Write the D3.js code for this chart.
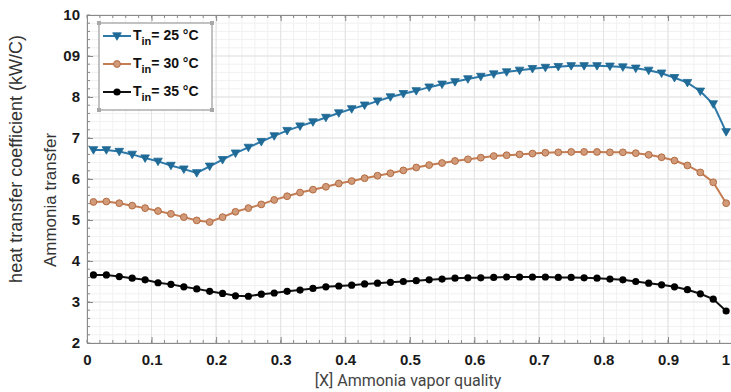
<!DOCTYPE html>
<html>
<head>
<meta charset="utf-8">
<script src="https://cdn.jsdelivr.net/npm/d3@7"></script>
<style>
  body { margin: 0; background: #fff; }
  svg { display: block; font-family: "Liberation Sans", Arial, sans-serif; }
</style>
</head>
<body>
<div id="chart"></div>
<script>
// vapor quality samples
const quality = [0.01, 0.03, 0.05, 0.07, 0.09, 0.11, 0.13, 0.15, 0.17, 0.19,
  0.21, 0.23, 0.25, 0.27, 0.29, 0.31, 0.33, 0.35, 0.37, 0.39,
  0.41, 0.43, 0.45, 0.47, 0.49, 0.51, 0.53, 0.55, 0.57, 0.59,
  0.61, 0.63, 0.65, 0.67, 0.69, 0.71, 0.73, 0.75, 0.77, 0.79,
  0.81, 0.83, 0.85, 0.87, 0.89, 0.91, 0.93, 0.95, 0.97, 0.99];

const tin25 = [6.71, 6.71, 6.67, 6.60, 6.51, 6.43, 6.33, 6.24, 6.15, 6.31,
  6.47, 6.63, 6.77, 6.91, 7.05, 7.18, 7.29, 7.39, 7.50, 7.61,
  7.71, 7.80, 7.90, 8.00, 8.08, 8.15, 8.24, 8.31, 8.37, 8.44,
  8.50, 8.56, 8.61, 8.65, 8.69, 8.72, 8.74, 8.76, 8.76, 8.76,
  8.75, 8.73, 8.70, 8.65, 8.58, 8.47, 8.35, 8.14, 7.83, 7.15];

const tin30 = [5.44, 5.45, 5.41, 5.35, 5.29, 5.22, 5.15, 5.07, 4.99, 4.95,
  5.07, 5.20, 5.29, 5.38, 5.49, 5.58, 5.67, 5.74, 5.81, 5.89,
  5.95, 6.02, 6.08, 6.14, 6.21, 6.28, 6.34, 6.39, 6.44, 6.48,
  6.52, 6.56, 6.58, 6.60, 6.62, 6.64, 6.65, 6.66, 6.66, 6.66,
  6.65, 6.65, 6.63, 6.59, 6.53, 6.45, 6.33, 6.16, 5.92, 5.41];

const tin35 = [3.66, 3.66, 3.62, 3.58, 3.54, 3.47, 3.43, 3.37, 3.32, 3.26,
  3.21, 3.15, 3.14, 3.19, 3.22, 3.26, 3.29, 3.33, 3.37, 3.39,
  3.41, 3.44, 3.46, 3.48, 3.50, 3.52, 3.54, 3.56, 3.58, 3.59,
  3.59, 3.60, 3.61, 3.61, 3.61, 3.61, 3.60, 3.60, 3.59, 3.58,
  3.56, 3.54, 3.50, 3.46, 3.42, 3.37, 3.30, 3.20, 3.07, 2.78];

const seriesTemps = ['25', '30', '35'];
const xTicks = [0, 0.1, 0.2, 0.3, 0.4, 0.5, 0.6, 0.7, 0.8, 0.9, 1];
const xTickLabels = ['0', '0.1', '0.2', '0.3', '0.4', '0.5', '0.6', '0.7', '0.8', '0.9', '1'];
const yTicks = [2, 3, 4, 5, 6, 7, 8, 9, 10];
const yTickLabels = ['2', '3', '4', '5', '6', '7', '8', '09', '10'];

const width = 731, height = 392;

const svg = d3.select('#chart').append('svg')
  .attr('width', width)
  .attr('height', height);

const x = d3.scaleLinear().domain([0, 1]).range([87, 732.6]);
const y = d3.scaleLinear().domain([2, 10]).range([343, 15]);

// grid (minor then major)
const grid = svg.append('g');
grid.selectAll('line.vx').data(d3.range(0, 1.001, 0.02)).join('line')
  .attr('x1', d => x(d)).attr('x2', d => x(d))
  .attr('y1', y(2)).attr('y2', y(10))
  .attr('stroke', '#f1f1f1').attr('stroke-width', 1);
grid.selectAll('line.hy').data(d3.range(2, 10.001, 0.2)).join('line')
  .attr('x1', x(0)).attr('x2', x(1))
  .attr('y1', d => y(d)).attr('y2', d => y(d))
  .attr('stroke', '#f1f1f1').attr('stroke-width', 1);
grid.selectAll('line.mx').data(xTicks).join('line')
  .attr('x1', d => x(d)).attr('x2', d => x(d))
  .attr('y1', y(2)).attr('y2', y(10))
  .attr('stroke', '#e2e2e2').attr('stroke-width', 1);
grid.selectAll('line.my').data(yTicks).join('line')
  .attr('x1', x(0)).attr('x2', x(1))
  .attr('y1', d => y(d)).attr('y2', d => y(d))
  .attr('stroke', '#e2e2e2').attr('stroke-width', 1);

// minor ticks, inward
const minor = svg.append('g').attr('stroke', '#888').attr('stroke-width', 1);
d3.range(0, 1.001, 0.02).forEach(v => {
  minor.append('line').attr('x1', x(v)).attr('x2', x(v)).attr('y1', y(2)).attr('y2', y(2) - 3);
  minor.append('line').attr('x1', x(v)).attr('x2', x(v)).attr('y1', y(10)).attr('y2', y(10) + 3);
});
d3.range(2, 10.001, 0.2).forEach(v => {
  minor.append('line').attr('x1', x(0)).attr('x2', x(0) + 3).attr('y1', y(v)).attr('y2', y(v));
});

// axes
svg.append('g')
  .attr('transform', 'translate(0,' + y(2) + ')')
  .call(d3.axisBottom(x).tickValues(xTicks)
    .tickFormat((d, i) => xTickLabels[i])
    .tickSizeInner(-6).tickSizeOuter(0).tickPadding(11));
svg.append('g')
  .attr('transform', 'translate(0,' + y(10) + ')')
  .call(d3.axisTop(x).tickValues(xTicks).tickFormat('')
    .tickSizeInner(-6).tickSizeOuter(0));
svg.append('g')
  .attr('transform', 'translate(' + x(0) + ',0)')
  .call(d3.axisLeft(y).tickValues(yTicks)
    .tickFormat((d, i) => yTickLabels[i])
    .tickSizeInner(-6).tickSizeOuter(0).tickPadding(7));

svg.selectAll('.domain').attr('stroke', '#8a8a8a');
svg.selectAll('.tick line').attr('stroke', '#888');
svg.selectAll('.tick text')
  .attr('fill', '#1a1a1a')
  .style('font-size', '15px')
  .style('font-weight', 'bold');
// last x label sits at the window edge; keep it inside
svg.selectAll('.tick text').filter(d => d === 1)
  .attr('text-anchor', 'end').attr('x', -3);

// series
const series = [
  { temp: seriesTemps[0], values: tin25, color: '#2c78a8', marker: 'tri' },
  { temp: seriesTemps[1], values: tin30, color: '#c47c52', marker: 'circle' },
  { temp: seriesTemps[2], values: tin35, color: '#111111', marker: 'dot' }
];

const line = d3.line().x(d => x(d[0])).y(d => y(d[1]));

function drawMarker(g, m) {
  if (m === 'tri') {
    g.append('path')
      .attr('d', 'M-4.3,-3.2L4.3,-3.2L0,4.3Z')
      .attr('fill', '#1f6a96').attr('stroke', '#1f6a96').attr('stroke-width', 0.8);
  } else if (m === 'circle') {
    g.append('circle').attr('r', 3.4)
      .attr('fill', '#d19a78').attr('stroke', '#b46c42').attr('stroke-width', 1);
  } else {
    g.append('circle').attr('r', 3.6).attr('fill', '#000');
  }
}

series.forEach(s => {
  const pts = quality.map((q, i) => [q, s.values[i]]);
  svg.append('path')
    .datum(pts)
    .attr('fill', 'none')
    .attr('stroke', s.color)
    .attr('stroke-width', 2)
    .attr('d', line);
  const mg = svg.append('g');
  pts.forEach(p => {
    const g = mg.append('g').attr('transform', 'translate(' + x(p[0]) + ',' + y(p[1]) + ')');
    drawMarker(g, s.marker);
  });
});

// legend
const legend = svg.append('g');
legend.append('rect')
  .attr('x', 99).attr('y', 23).attr('width', 113).attr('height', 87)
  .attr('fill', '#fff').attr('stroke', '#9a9a9a').attr('stroke-width', 1.2);
[[99, 23], [212, 23], [99, 110], [212, 110]].forEach(c => {
  legend.append('rect').attr('x', c[0] - 2).attr('y', c[1] - 2)
    .attr('width', 4).attr('height', 4).attr('fill', '#a8a8a8');
});
series.forEach((s, i) => {
  const cy = 36 + i * 28;
  legend.append('line')
    .attr('x1', 103).attr('x2', 131).attr('y1', cy).attr('y2', cy)
    .attr('stroke', s.color).attr('stroke-width', 2);
  drawMarker(legend.append('g').attr('transform', 'translate(117,' + cy + ')'), s.marker);
  const t = legend.append('text')
    .attr('x', 133).attr('y', cy + 4)
    .attr('fill', '#111')
    .style('font-size', '14px').style('font-weight', 'bold');
  t.append('tspan').text('T');
  t.append('tspan').attr('dy', 5).style('font-size', '11px').text('in');
  t.append('tspan').attr('dy', -5).text('= ' + s.temp + ' \u00B0C');
});

// axis titles
svg.append('text')
  .attr('x', 408).attr('y', 386)
  .attr('text-anchor', 'middle')
  .attr('fill', '#444')
  .style('font-family', 'Roboto, "Liberation Sans", sans-serif')
  .style('font-size', '16px')
  .text('[X] Ammonia vapor quality');

svg.append('text')
  .attr('transform', 'translate(22,159) rotate(-90)')
  .attr('text-anchor', 'middle')
  .attr('fill', '#333')
  .style('font-size', '18px')
  .text('heat transfer coefficient (kW/C)');

svg.append('text')
  .attr('transform', 'translate(56,200) rotate(-90)')
  .attr('text-anchor', 'middle')
  .attr('fill', '#333')
  .style('font-size', '17px')
  .text('Ammonia transfer');
</script>
</body>
</html>
